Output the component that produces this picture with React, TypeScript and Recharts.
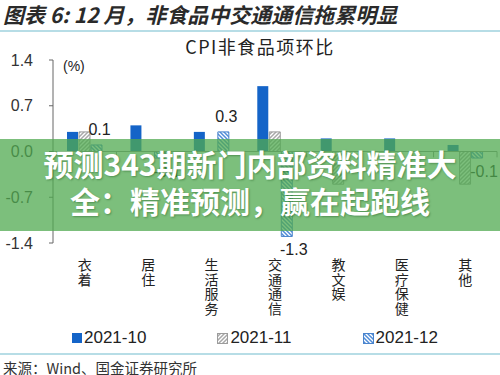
import React from 'react';
import { BarChart, Bar, XAxis, YAxis, ReferenceLine, LabelList } from 'recharts';

const categories = ['衣着', '居住', '生活服务', '交通通信', '教文娱', '医疗保健', '其他'];
const seriesNames = ['2021-10', '2021-11', '2021-12'];
const s10 = [0.3, 0.4, 0.3, 1.0, 0.2, 0.2, 0.1];
const s11 = [0.3, 0.0, 0.0, 0.3, -0.5, 0.0, -0.5];
const s12 = [0.1, -0.1, 0.3, -1.3, 0.0, 0.0, -0.1];
const yTicks = [1.4, 0.7, 0, -0.7, -1.4];

const data = categories.map((c, i) => ({ name: c, s10: s10[i], s11: s11[i], s12: s12[i] }));

const BLUE = '#1464c8';
const GREY_BORDER = '#9c9c9c';
const BLUE_BORDER = '#4a84cc';
const SANS = '"Liberation Sans", Arial, sans-serif';
const CJK = '"Noto Sans CJK SC", "Liberation Sans", sans-serif';

const CatTick = (props: any) => {
  const { x, y, payload } = props;
  return (
    <text
      x={x}
      y={y + 15}
      fontSize={14}
      fill="#222"
      fontFamily={CJK}
      style={{ writingMode: 'vertical-rl', letterSpacing: 0.5 } as any}
    >
      {String(payload.value)}
    </text>
  );
};

const renderLabel = (props: any) => {
  const vb = props.viewBox || {};
  const x = props.x ?? vb.x;
  const y = props.y ?? vb.y;
  const w = props.width ?? vb.width;
  const h = props.height ?? vb.height;
  const v = Number(props.value);
  if (x == null || y == null) return null;
  const top = Math.min(y, y + h);
  const bottom = Math.max(y, y + h);
  const cx = x + w / 2;
  if (v >= 0) {
    return (
      <text x={cx + 3} y={top - 10} textAnchor="middle" fontSize={16} fill="#222" fontFamily={SANS}>
        {v.toFixed(1)}
      </text>
    );
  }
  return (
    <text x={cx + 7} y={bottom + 19} textAnchor="middle" fontSize={16} fill="#222" fontFamily={SANS}>
      {v.toFixed(1)}
    </text>
  );
};

const LegendIcon = ({ idx }: { idx: number }) => {
  if (idx === 0) return <div style={{ width: 10, height: 10, background: BLUE }} />;
  return (
    <svg width={11} height={11} style={{ display: 'block' }}>
      <rect x={0.5} y={0.5} width={10} height={10} fill={`url(#${idx === 1 ? 'hatch11' : 'hatch12'})`} stroke={idx === 1 ? GREY_BORDER : BLUE_BORDER} />
    </svg>
  );
};

export default function App() {
  return (
    <div style={{ position: 'fixed', left: 0, top: 0, width: 500, height: 375, background: '#fff', overflow: 'hidden' }}>
      <div
        style={{
          position: 'absolute', left: 3, top: 1, height: 26, lineHeight: '26px',
          fontFamily: CJK, fontWeight: 'bold', fontStyle: 'italic', fontSize: 21, color: '#2a2a2a', whiteSpace: 'nowrap',
        }}
      >
        图表 6: 12 月，非食品中交通通信拖累明显
      </div>
      <div style={{ position: 'absolute', left: 0, top: 30, width: 500, height: 2, background: '#b7dde6' }} />
      <div
        style={{
          position: 'absolute', left: 160, width: 200, top: 35, height: 22, lineHeight: '22px', textAlign: 'center',
          fontFamily: CJK, fontSize: 18, letterSpacing: 1.5, color: '#222', whiteSpace: 'nowrap',
        }}
      >
        CPI非食品项环比
      </div>
      <div style={{ position: 'absolute', left: 63, top: 58, fontFamily: SANS, fontSize: 14, color: '#222' }}>(%)</div>

      <div style={{ position: 'absolute', left: 0, top: 0 }}>
        <BarChart
          width={500}
          height={375}
          data={data}
          margin={{ top: 60, right: 3, bottom: 0, left: 0 }}
          barSize={11}
          barGap={1}
        >
          <defs>
            <pattern id="hatch11" patternUnits="userSpaceOnUse" width={4} height={4}>
              <rect width={4} height={4} fill="#fff" />
              <path d="M-1,1 l2,-2 M0,4 l4,-4 M3,5 l2,-2" stroke="#a8a8a8" strokeWidth={1.5} />
            </pattern>
            <pattern id="hatch12" patternUnits="userSpaceOnUse" width={4} height={4}>
              <rect width={4} height={4} fill="#fff" />
              <path d="M-1,3 l2,2 M0,0 l4,4 M3,-1 l2,2" stroke="#4f8cd8" strokeWidth={1.5} />
            </pattern>
          </defs>
          <XAxis
            dataKey="name"
            axisLine={false}
            tickLine={false}
            tickSize={0}
            tickMargin={0}
            height={132}
            interval={0}
            tick={<CatTick />}
          />
          <YAxis
            domain={[-1.4, 1.4]}
            ticks={yTicks}
            tickFormatter={(v: number) => v.toFixed(1)}
            width={53}
            tickSize={4}
            tickMargin={16}
            axisLine={{ stroke: '#666' }}
            tickLine={{ stroke: '#666' }}
            tick={{ fontSize: 16, fill: '#333', fontFamily: SANS }}
            interval={0}
          />
          <ReferenceLine y={0} stroke="#8a8a8a" strokeWidth={1} />
          {categories.map((c) => (
            <ReferenceLine
              key={'b' + c}
              segment={[{ x: c, y: 0 }, { x: c, y: -0.09 }]}
              position="start"
              stroke="#8a8a8a"
            />
          ))}
          <ReferenceLine
            segment={[{ x: categories[categories.length - 1], y: 0 }, { x: categories[categories.length - 1], y: -0.09 }]}
            position="end"
            stroke="#8a8a8a"
          />
          <Bar dataKey="s10" name={seriesNames[0]} fill={BLUE} isAnimationActive={false} />
          <Bar dataKey="s11" name={seriesNames[1]} fill="url(#hatch11)" stroke={GREY_BORDER} strokeWidth={1} isAnimationActive={false} />
          <Bar dataKey="s12" name={seriesNames[2]} fill="url(#hatch12)" stroke={BLUE_BORDER} strokeWidth={1} isAnimationActive={false}>
            <LabelList dataKey="s12" content={renderLabel} />
          </Bar>
        </BarChart>
      </div>

      <div style={{ position: 'absolute', left: 72, top: 328, height: 20, display: 'flex', alignItems: 'center', whiteSpace: 'nowrap', width: 428 }}>
        {seriesNames.map((n, i) => (
          <div key={n} style={{ display: 'flex', alignItems: 'center', marginRight: 71, flexShrink: 0 }}>
            <LegendIcon idx={i} />
            <span style={{ marginLeft: 2, fontFamily: SANS, fontSize: 17, color: '#222', whiteSpace: 'nowrap' }}>{n}</span>
          </div>
        ))}
      </div>
      <div style={{ position: 'absolute', left: 0, top: 353, width: 500, height: 2, background: '#b7dde6' }} />
      <div style={{ position: 'absolute', left: 3, top: 357, fontFamily: CJK, fontSize: 14.5, color: '#333', whiteSpace: 'nowrap' }}>
        来源：Wind、国金证券研究所
      </div>

      <div
        style={{
          position: 'absolute', left: 0, top: 139, width: 500, height: 92, background: 'rgba(80,170,80,0.75)',
          paddingTop: 6, boxSizing: 'border-box', textAlign: 'center', fontFamily: CJK, fontWeight: 'bold',
          fontSize: 30, lineHeight: '37px', color: '#fff', textShadow: '1px 1px 2px rgba(0,60,0,0.35)', whiteSpace: 'nowrap',
        }}
      >
        <div>预测343期新门内部资料精准大</div>
        <div>全：精准预测，赢在起跑线</div>
      </div>
    </div>
  );
}
